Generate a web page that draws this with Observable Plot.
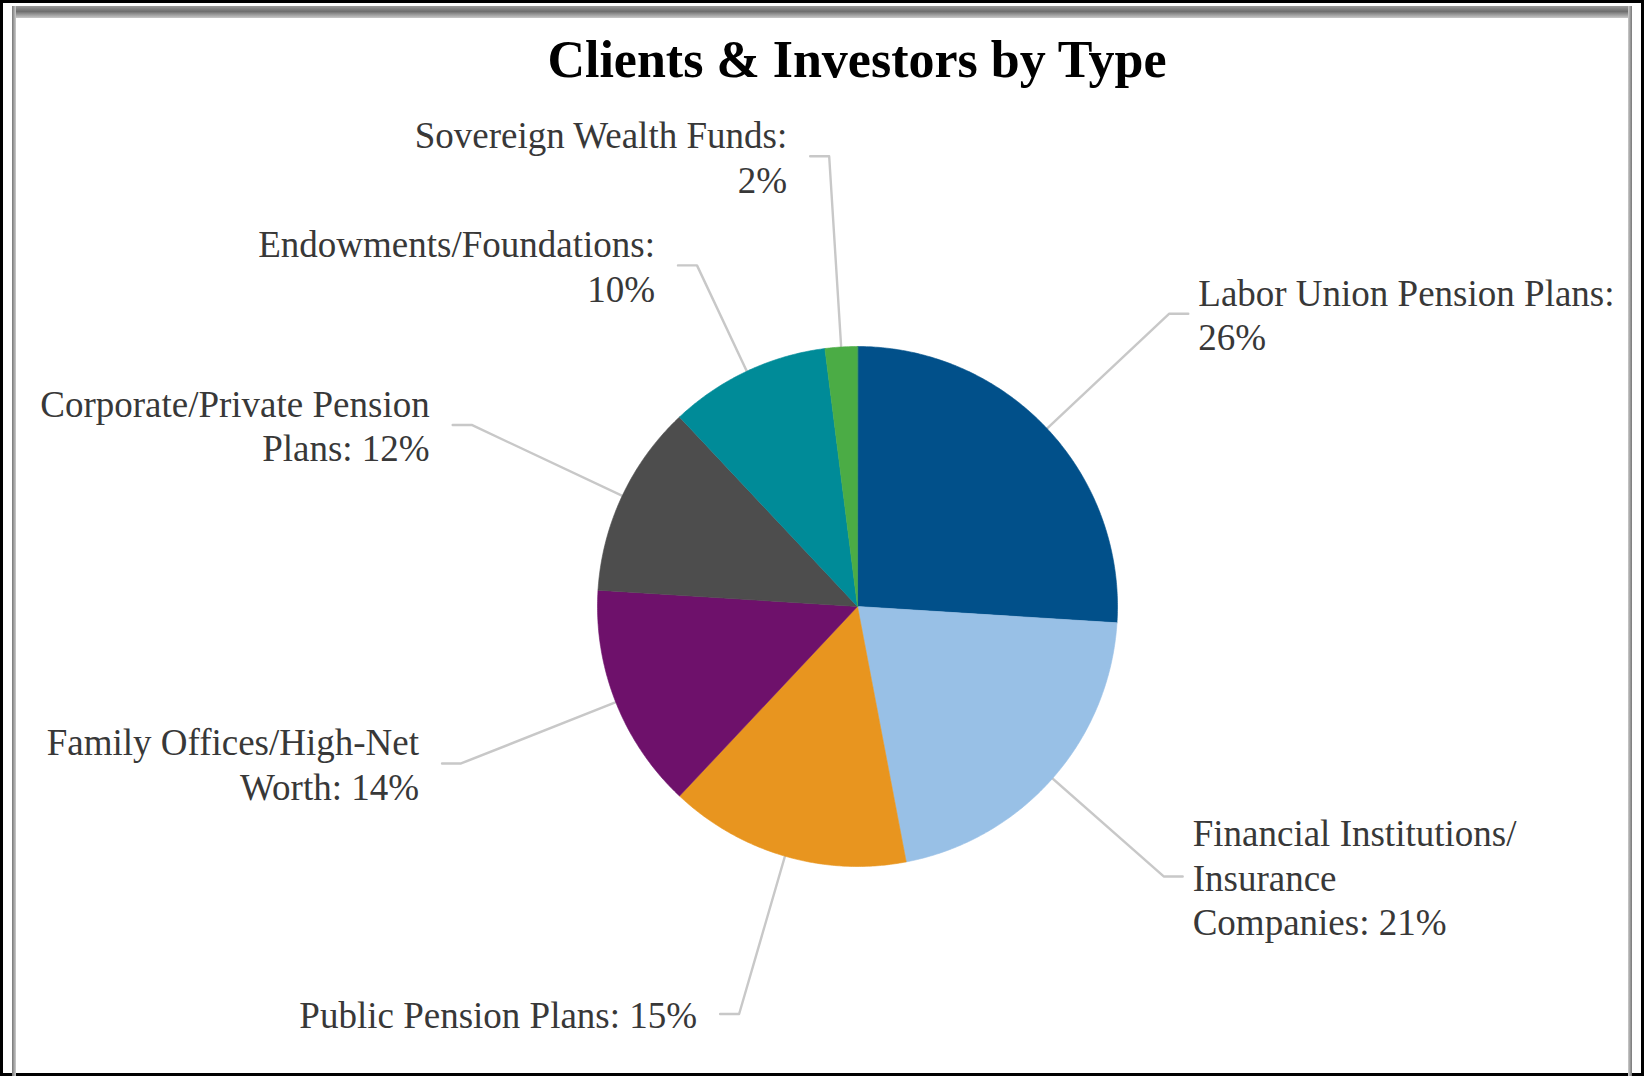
<!DOCTYPE html>
<html>
<head>
<meta charset="utf-8">
<script src="https://cdn.jsdelivr.net/npm/d3@7"></script>
<script src="https://cdn.jsdelivr.net/npm/@observablehq/plot@0.6"></script>
<style>
html, body { margin: 0; padding: 0; background: #fff; }
#frame { position: relative; width: 1644px; height: 1076px; overflow: hidden; background: #fff; }
.edge { position: absolute; background: #000; }
#shadowTop { position: absolute; left: 12px; right: 12px; top: 6px; height: 12px;
  background: linear-gradient(to bottom, #9a9a9a, #6e6e6e 45%, #c8c8c8); }
#shadowLeft { position: absolute; left: 12px; top: 6px; bottom: 0; width: 4px; background: linear-gradient(to right, #777, #ccc); }
#shadowRight { position: absolute; right: 12px; top: 6px; bottom: 0; width: 4px; background: linear-gradient(to left, #777, #ccc); }
#title { position: absolute; left: 857px; top: 34px; transform: translateX(-50%); white-space: nowrap;
  font-family: "Liberation Serif", "DejaVu Serif", serif; font-weight: bold; font-size: 52px; line-height: 52px; color: #000; }
#chart { position: absolute; left: 0; top: 100px; }
</style>
</head>
<body>
<div id="frame">
  <div class="edge" style="left:0;top:0;width:1644px;height:3px"></div>
  <div class="edge" style="left:0;bottom:0;width:1644px;height:3px"></div>
  <div class="edge" style="left:0;top:0;width:3px;height:1076px"></div>
  <div class="edge" style="right:0;top:0;width:3px;height:1076px"></div>
  <div id="shadowTop"></div>
  <div id="shadowLeft"></div>
  <div id="shadowRight"></div>
  <div id="title">Clients &amp; Investors by Type</div>
  <div id="chart"></div>
</div>
<script>
// ---- data ----
const categories = [
  "Labor Union Pension Plans",
  "Financial Institutions/Insurance Companies",
  "Public Pension Plans",
  "Family Offices/High-Net Worth",
  "Corporate/Private Pension Plans",
  "Endowments/Foundations",
  "Sovereign Wealth Funds"
];
const values = [26, 21, 15, 14, 12, 10, 2];
const labelPrefixes = [
  "Labor Union Pension Plans:\n",
  "Financial Institutions/\nInsurance\nCompanies: ",
  "Public Pension Plans: ",
  "Family Offices/High-Net\nWorth: ",
  "Corporate/Private Pension\nPlans: ",
  "Endowments/Foundations:\n",
  "Sovereign Wealth Funds:\n"
];
const colors = ["#01508a", "#98c0e6", "#e8951f", "#6e116b", "#4d4d4d", "#008b98", "#4bac45"];

// ---- layout ----
const W = 1644, H = 976, CX = 857, CY = 506, R = 260;
const labelRadius = [1.645, 1.57, 1.632, 1.64, 1.64, 1.45, 1.735]; // elbow distance, in radii
const hook = 19 / R, gapRight = 29 / R, gapLeft = 42 / R;

const total = d3.sum(values);
let acc = 0;
const slices = categories.map((c, i) => {
  const a0 = acc / total * 2 * Math.PI;
  acc += values[i];
  const a1 = acc / total * 2 * Math.PI;
  return {cat: c, i, a0, a1, mid: (a0 + a1) / 2};
});

const slicePts = slices.flatMap(s => {
  const n = Math.max(2, Math.ceil((s.a1 - s.a0) / (Math.PI / 360)));
  const pts = [{cat: s.cat, x: 0, y: 0}];
  for (let k = 0; k <= n; k++) {
    const a = s.a0 + (s.a1 - s.a0) * k / n;
    pts.push({cat: s.cat, x: Math.sin(a), y: -Math.cos(a)});
  }
  return pts;
});

const leaderPts = [];
const labels = [];
slices.forEach(s => {
  const right = Math.sin(s.mid) >= 0;
  const ex = Math.sin(s.mid) * labelRadius[s.i], ey = -Math.cos(s.mid) * labelRadius[s.i];
  leaderPts.push({cat: s.cat, x: Math.sin(s.mid) * 0.9, y: -Math.cos(s.mid) * 0.9});
  leaderPts.push({cat: s.cat, x: ex, y: ey});
  leaderPts.push({cat: s.cat, x: ex + (right ? hook : -hook), y: ey});
  labels.push({
    right,
    x: ex + (right ? gapRight : -gapLeft),
    y: ey,
    text: labelPrefixes[s.i] + values[s.i] + "%"
  });
});

const font = "'Liberation Serif', 'DejaVu Serif', serif";
const textOpts = {x: "x", y: "y", text: "text", fontSize: 37, fontFamily: font, fill: "#383838",
  lineAnchor: "middle", lineHeight: 1.2};

const chart = Plot.plot({
  width: W, height: H,
  marginTop: 0, marginRight: 0, marginBottom: 0, marginLeft: 0,
  x: {domain: [-CX / R, (W - CX) / R], range: [0, W], axis: null},
  y: {domain: [-CY / R, (H - CY) / R], range: [0, H], axis: null},
  color: {domain: categories, range: colors},
  style: {background: "transparent", fontFamily: font, overflow: "visible"},
  marks: [
    Plot.line(leaderPts, {x: "x", y: "y", z: "cat", stroke: "#c8c8c8", strokeWidth: 2.4, curve: "linear"}),
    Plot.line(slicePts, {x: "x", y: "y", z: "cat", fill: "cat", stroke: "cat", strokeWidth: 0.6, curve: "linear-closed"}),
    Plot.text(labels.filter(d => d.right), {...textOpts, textAnchor: "start"}),
    Plot.text(labels.filter(d => !d.right), {...textOpts, textAnchor: "end"})
  ]
});
document.getElementById("chart").appendChild(chart);
</script>
</body>
</html>
